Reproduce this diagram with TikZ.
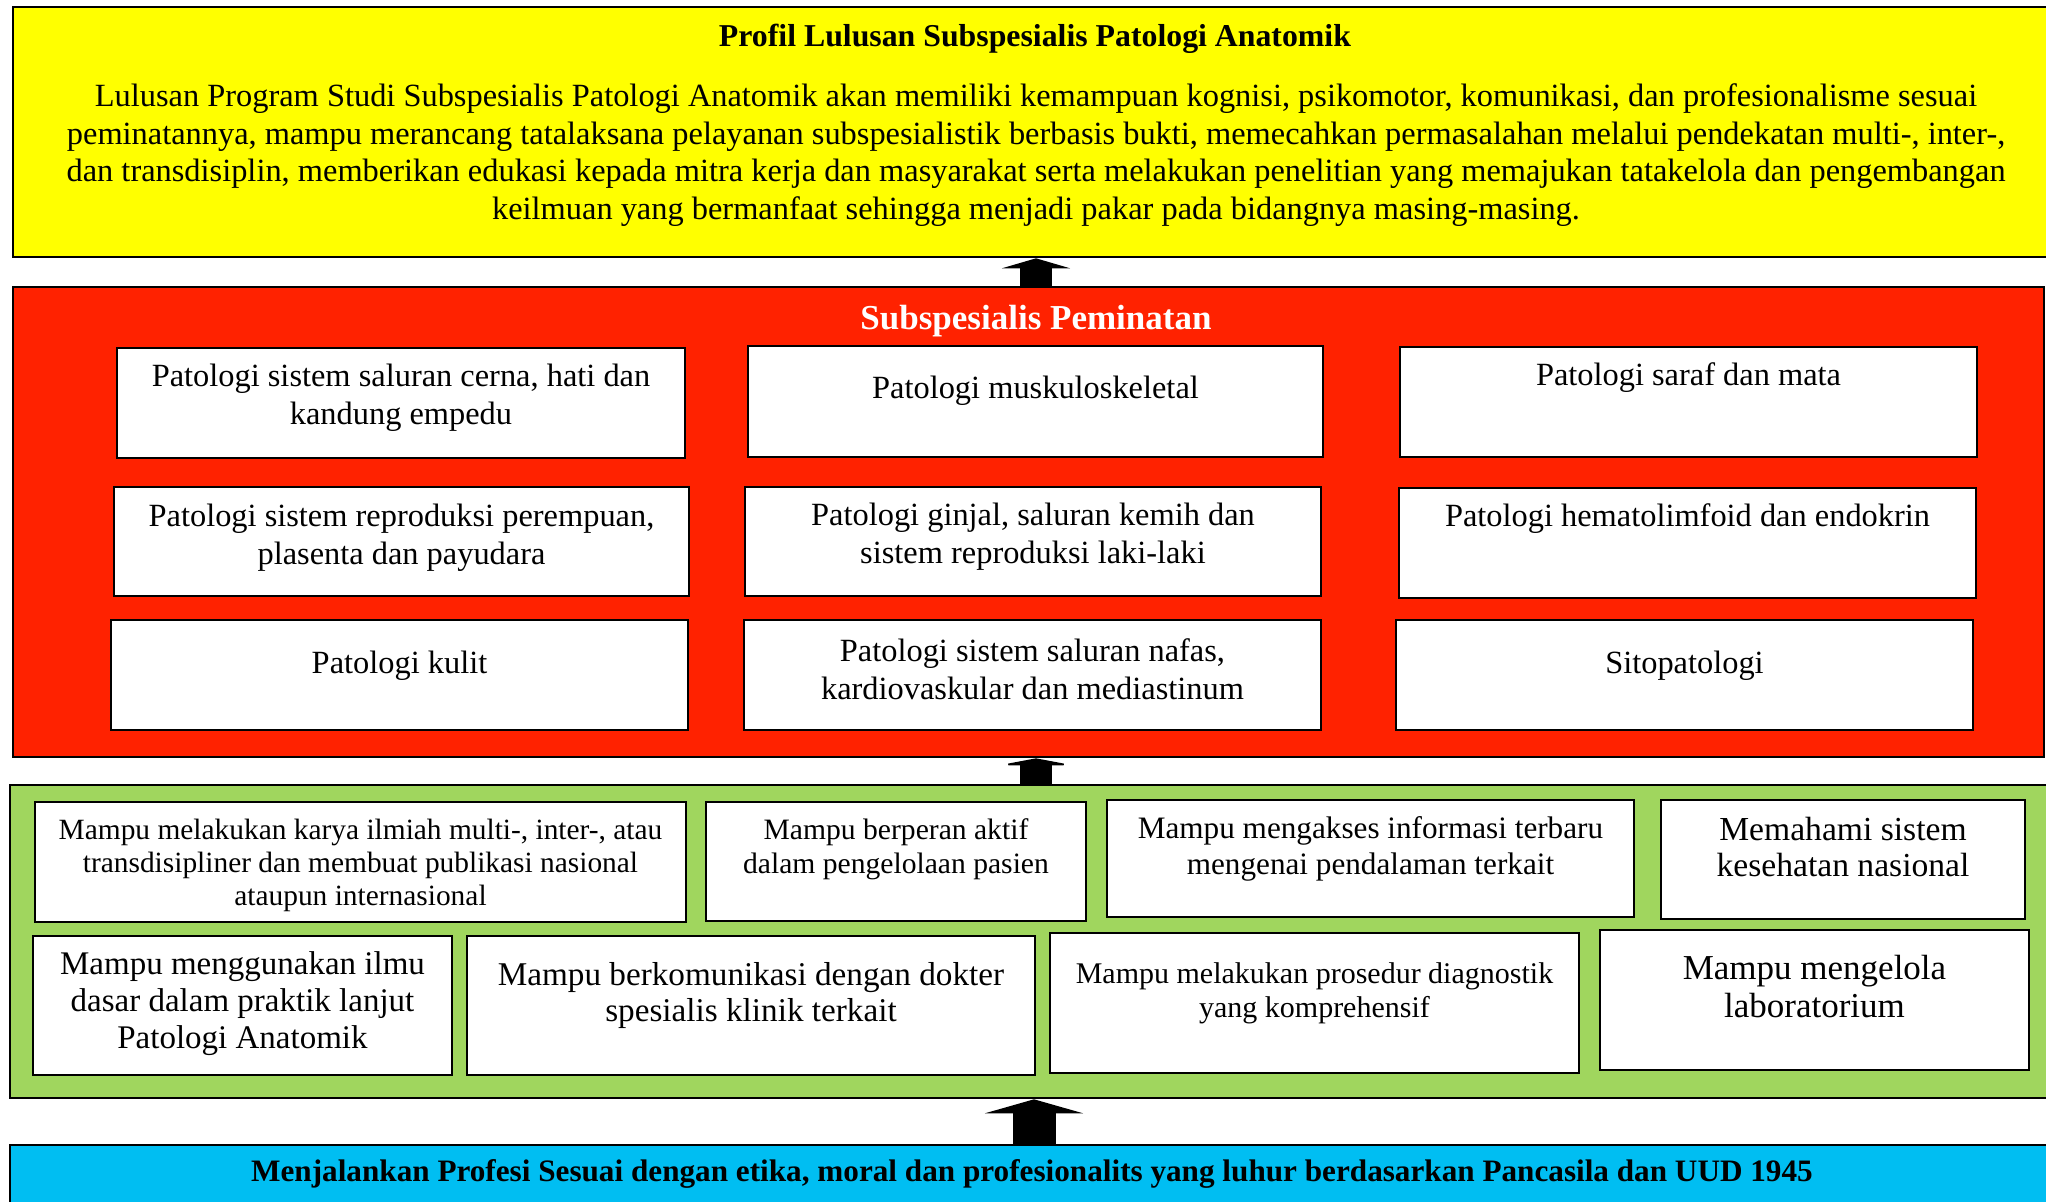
\documentclass[tikz,border=0pt]{standalone}
\usepackage{fontspec}
\setmainfont{Liberation Serif}
\usetikzlibrary{arrows.meta}
\definecolor{cyellow}{RGB}{255,255,0}
\definecolor{cred}{RGB}{255,34,0}
\definecolor{cgreen}{RGB}{160,214,94}
\definecolor{cblue}{RGB}{0,190,242}
\newcommand\fs[2]{\fontsize{#1pt}{#2pt}\selectfont}
\newcommand\mybox[8]{%
  \pgfmathsetmacro\bw{(#5-#3)/2}%
  \pgfmathsetmacro\bh{(#6-#4)/2}%
  \node[wbox, minimum width=\bw pt, minimum height=\bh pt] (#2) at ({(#3+#5)/2},{(#4+#6)/2}) {};
  \node[lbl, #1] (#2t) at ({(#3+#5)/2},#7) {#8};
}
\newcommand\bigbox[6]{%
  \pgfmathsetmacro\bw{(#5-#3)/2}%
  \pgfmathsetmacro\bh{(#6-#4)/2}%
  \node[bbox, #1, minimum width=\bw pt, minimum height=\bh pt] (#2) at ({(#3+#5)/2},{(#4+#6)/2}) {};
}
\tikzset{
  wbox/.style={draw=black, fill=white, line width=1.3pt, inner sep=0pt, rectangle},
  bbox/.style={draw=black, line width=1.3pt, inner sep=0pt, rectangle},
  lbl/.style={inner sep=0pt, align=center, text=black},
  redtxt/.style={font=\fs{16.2}{19}},
}
\begin{document}
\begin{tikzpicture}[x=0.5pt, y=-0.5pt]
\useasboundingbox (0,0) rectangle (2046,1201);
% big boxes
\bigbox{fill=cyellow}{yellow}{13}{7}{2070}{257}
\bigbox{fill=cred}{red}{13}{287}{2044}{757}
\bigbox{fill=cgreen}{green}{10}{785}{2070}{1098}
\bigbox{fill=cblue}{blue}{10}{1145}{2070}{1230}
% yellow texts
\node[lbl, font=\fs{15.9}{18}\bfseries] (ytitle) at (1035,39) {Profil Lulusan Subspesialis Patologi Anatomik};
\node[lbl, font=\fs{16.2}{18.7}] (ybody) at (1036,155) {Lulusan Program Studi Subspesialis Patologi Anatomik akan memiliki kemampuan kognisi, psikomotor, komunikasi, dan profesionalisme sesuai\\
peminatannya, mampu merancang tatalaksana pelayanan subspesialistik berbasis bukti, memecahkan permasalahan melalui pendekatan multi-, inter-,\\
dan transdisiplin, memberikan edukasi kepada mitra kerja dan masyarakat serta melakukan penelitian yang memajukan tatakelola dan pengembangan\\
keilmuan yang bermanfaat sehingga menjadi pakar pada bidangnya masing-masing.};
% red title
\node[lbl, text=white, font=\fs{17.5}{19}\bfseries] (rtitle) at (1036,321) {Subspesialis Peminatan};
% red inner boxes
\mybox{redtxt}{pa}{117}{348}{685}{458}{398}{Patologi sistem saluran cerna, hati dan\\kandung empedu}
\mybox{redtxt}{pb}{748}{346}{1323}{457}{391}{Patologi muskuloskeletal}
\mybox{redtxt}{pc}{1400}{347}{1977}{457}{378}{Patologi saraf dan mata}
\mybox{redtxt}{pd}{114}{487}{689}{596}{538}{Patologi sistem reproduksi perempuan,\\plasenta dan payudara}
\mybox{redtxt}{pe}{745}{487}{1321}{596}{537}{Patologi ginjal, saluran kemih dan\\sistem reproduksi laki-laki}
\mybox{redtxt}{pf}{1399}{488}{1976}{598}{519}{Patologi hematolimfoid dan endokrin}
\mybox{redtxt}{pg}{111}{620}{688}{730}{666}{Patologi kulit}
\mybox{redtxt}{ph}{744}{620}{1321}{730}{669}{Patologi sistem saluran nafas,\\kardiovaskular dan mediastinum}
\mybox{redtxt}{pi}{1396}{620}{1973}{730}{666}{Sitopatologi}
% green inner boxes
\mybox{font=\fs{14.7}{16.5}}{ga}{35}{802}{686}{922}{865}{Mampu melakukan karya ilmiah multi-, inter-, atau\\transdisipliner dan membuat publikasi nasional\\ataupun internasional}
\mybox{font=\fs{14.8}{17}}{gb}{706}{802}{1086}{921}{849}{Mampu berperan aktif\\dalam pengelolaan pasien}
\mybox{font=\fs{15.6}{18}}{gc}{1107}{800}{1634}{917}{849}{Mampu mengakses informasi terbaru\\mengenai pendalaman terkait}
\mybox{font=\fs{16.8}{18}}{gd}{1661}{800}{2025}{919}{847}{Memahami sistem\\kesehatan nasional}
\mybox{font=\fs{16.5}{18.5}}{ge}{33}{936}{452}{1075}{1004}{Mampu menggunakan ilmu\\dasar dalam praktik lanjut\\Patologi Anatomik}
\mybox{font=\fs{16.6}{18}}{gf}{467}{936}{1035}{1075}{995}{Mampu berkomunikasi dengan dokter\\spesialis klinik terkait}
\mybox{font=\fs{15}{17}}{gg}{1050}{933}{1579}{1073}{993}{Mampu melakukan prosedur diagnostik\\yang komprehensif}
\mybox{font=\fs{17.5}{19}}{gh}{1600}{930}{2029}{1070}{987}{Mampu mengelola\\laboratorium}
% blue text
\node[lbl, font=\fs{15.6}{19}\bfseries] (btext) at (1032,1174) {Menjalankan Profesi Sesuai dengan etika, moral dan profesionalits yang luhur berdasarkan Pancasila dan UUD 1945};
% arrows
\coordinate (a1) at (1036,0);
\coordinate (a3) at (1034,0);
\draw[line width=16pt, -{Triangle[width=34pt, length=5pt]}] (red.north -| a1) -- (yellow.south -| a1);
\draw[line width=16pt, -{Triangle[width=37pt, length=3.5pt]}] (green.north -| a1) -- (red.south -| a1);
\draw[line width=21.5pt, -{Triangle[width=49pt, length=7pt]}] (blue.north -| a3) -- (green.south -| a3);
\end{tikzpicture}
\end{document}
